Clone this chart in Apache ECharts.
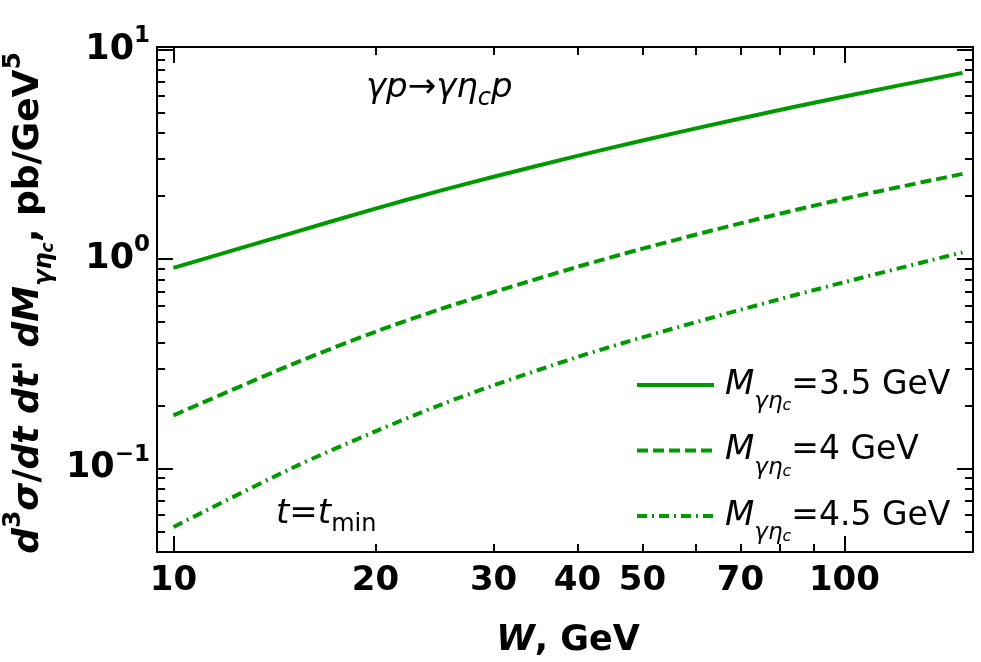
<!DOCTYPE html>
<html>
<head>
<meta charset="utf-8">
<script src="https://cdn.jsdelivr.net/npm/echarts@6/dist/echarts.min.js"></script>
<style>
  html, body { margin: 0; padding: 0; background: #fff; }
  #chart { width: 981px; height: 662px; }
</style>
</head>
<body>
<div id="chart"></div>
<script>
// W, GeV
const W = [10, 15, 20, 25, 30, 40, 50, 70, 100, 150];
// d3sigma/dt dt' dM, pb/GeV^5 at t = tmin
const sigM35 = [0.906, 1.33, 1.74, 2.12, 2.47, 3.11, 3.68, 4.69, 5.98, 7.75];
const sigM40 = [0.179, 0.313, 0.449, 0.576, 0.694, 0.917, 1.12, 1.48, 1.94, 2.55];
const sigM45 = [0.0524, 0.100, 0.150, 0.201, 0.249, 0.340, 0.422, 0.572, 0.775, 1.075];
const massLabels = ["3.5", "4", "4.5"];

const xLabelValues = [10, 20, 30, 40, 50, 70, 100];
const xMajorTicks = [10, 100];
const xMinorTicks = [20, 30, 40, 50, 60, 70, 80, 90];
const yMajorTicks = [0.1, 1, 10];
const yMinorTicks = [0.04, 0.05, 0.06, 0.07, 0.08, 0.09,
  0.2, 0.3, 0.4, 0.5, 0.6, 0.7, 0.8, 0.9, 2, 3, 4, 5, 6, 7, 8, 9];

const X_MIN = 9.45, X_MAX = 155.5;
const Y_MIN = 0.0398, Y_MAX = 10.3;

const FONT = "DejaVu Sans";
const GREEN = "#009900";

function pairs(ys) {
  return W.map((w, i) => [w, ys[i]]);
}

function xAxis(position, ticks, len, withLabels) {
  return {
    type: "log",
    logBase: 10,
    position: position,
    min: X_MIN,
    max: X_MAX,
    axisLine: { show: len > 10, onZero: false, lineStyle: { color: "#000", width: 2 } },
    axisTick: { show: true, inside: true, length: len, customValues: ticks,
      lineStyle: { color: "#000", width: 2 } },
    axisLabel: withLabels ? {
      show: true,
      customValues: xLabelValues,
      margin: 12,
      color: "#000",
      fontFamily: FONT,
      fontWeight: "bold",
      fontSize: 34,
      formatter: v => String(Math.round(v))
    } : { show: false },
    minorTick: { show: false },
    splitLine: { show: false }
  };
}

function yAxis(position, ticks, len, withLabels) {
  return {
    type: "log",
    logBase: 10,
    position: position,
    min: Y_MIN,
    max: Y_MAX,
    axisLine: { show: len > 10, onZero: false, lineStyle: { color: "#000", width: 2 } },
    axisTick: { show: true, inside: true, length: len, customValues: ticks,
      lineStyle: { color: "#000", width: 2 } },
    axisLabel: withLabels ? {
      show: true,
      customValues: yMajorTicks,
      margin: 7,
      color: "#000",
      fontFamily: FONT,
      fontWeight: "bold",
      fontSize: 35,
      lineHeight: 50,
      formatter: v => {
        const e = Math.round(Math.log10(v));
        return "10{sup|" + (e < 0 ? "\u2212" + (-e) : e) + "}";
      },
      rich: {
        sup: { fontFamily: FONT, fontWeight: "bold", fontSize: 23, lineHeight: 23,
          verticalAlign: "top", color: "#000" }
      }
    } : { show: false },
    minorTick: { show: false },
    splitLine: { show: false }
  };
}

const chart = echarts.init(document.getElementById("chart"));

const titleRich = {
  b: { fontFamily: FONT, fontWeight: "bold", fontSize: 36, lineHeight: 56, fill: "#000" },
  bi: { fontFamily: FONT, fontWeight: "bold", fontStyle: "italic", fontSize: 36, lineHeight: 56, fill: "#000" },
  sup: { fontFamily: FONT, fontWeight: "bold", fontSize: 25, lineHeight: 24, verticalAlign: "top", fill: "#000" },
  sub: { fontFamily: FONT, fontWeight: "bold", fontStyle: "italic", fontSize: 24, lineHeight: 24, verticalAlign: "bottom", fill: "#000" },
  ss: { fontFamily: FONT, fontWeight: "bold", fontStyle: "italic", fontSize: 17, lineHeight: 17, verticalAlign: "bottom", fill: "#000" }
};

const xTitleRich = {
  b: { fontFamily: FONT, fontWeight: "bold", fontSize: 35, lineHeight: 40, fill: "#000" },
  bi: { fontFamily: FONT, fontWeight: "bold", fontStyle: "italic", fontSize: 35, lineHeight: 40, fill: "#000" }
};

const annRich = {
  i: { fontFamily: FONT, fontStyle: "italic", fontSize: 34, lineHeight: 46, fill: "#000" },
  n: { fontFamily: FONT, fontSize: 34, lineHeight: 46, fill: "#000" },
  isub: { fontFamily: FONT, fontStyle: "italic", fontSize: 24, lineHeight: 24, verticalAlign: "bottom", fill: "#000" },
  sub: { fontFamily: FONT, fontSize: 24, lineHeight: 24, verticalAlign: "bottom", fill: "#000" }
};

chart.setOption({
  animation: false,
  backgroundColor: "#fff",
  grid: { left: 157, top: 47, width: 816, height: 505, containLabel: false },
  xAxis: [
    xAxis("bottom", xMajorTicks, 16, true),
    xAxis("bottom", xMinorTicks, 8, false),
    xAxis("top", xMajorTicks, 16, false),
    xAxis("top", xMinorTicks, 8, false)
  ],
  yAxis: [
    yAxis("left", yMajorTicks, 16, true),
    yAxis("left", yMinorTicks, 8, false),
    yAxis("right", yMajorTicks, 16, false),
    yAxis("right", yMinorTicks, 8, false)
  ],
  legend: {
    orient: "vertical",
    left: 635,
    top: 368,
    padding: 0,
    itemWidth: 77,
    itemHeight: 14,
    itemGap: 19.5,
    data: massLabels,
    itemStyle: { opacity: 0 },
    lineStyle: { width: 4 },
    formatter: name => "{mi|M}{sub|γη}{ss|c}{n|=" + name + " GeV}",
    textStyle: {
      color: "#000",
      fontFamily: FONT,
      fontSize: 33,
      padding: [0, 0, 0, 6],
      rich: {
        mi: { fontFamily: FONT, fontStyle: "italic", fontSize: 34, lineHeight: 58, color: "#000" },
        n: { fontFamily: FONT, fontSize: 33, lineHeight: 58, color: "#000" },
        sub: { fontFamily: FONT, fontStyle: "italic", fontSize: 23, lineHeight: 23, verticalAlign: "bottom", color: "#000" },
        ss: { fontFamily: FONT, fontStyle: "italic", fontSize: 16, lineHeight: 16, verticalAlign: "bottom", color: "#000" }
      }
    }
  },
  graphic: [
    {
      type: "text", x: 29, y: 303, rotation: Math.PI / 2,
      style: {
        text: "{bi|d}{sup|3}{bi|σ}{b|/}{bi|dt }{bi|dt}{b|' }{bi|dM}{sub|γη}{ss|c}{b|, pb/GeV}{sup|5}",
        align: "center", verticalAlign: "middle", rich: titleRich
      }
    },
    {
      type: "text", x: 568, y: 641,
      style: {
        text: "{bi|W}{b|, GeV}",
        align: "center", verticalAlign: "middle", rich: xTitleRich
      }
    },
    {
      type: "text", x: 366, y: 88,
      style: {
        text: "{i|γp→γη}{isub|c}{i|p}",
        align: "left", verticalAlign: "middle", rich: annRich
      }
    },
    {
      type: "text", x: 276, y: 514,
      style: {
        text: "{i|t}{n|=}{i|t}{sub|min}",
        align: "left", verticalAlign: "middle", rich: annRich
      }
    }
  ],
  series: [
    {
      name: massLabels[0], type: "line", smooth: 0.3, showSymbol: false, symbol: "none",
      xAxisIndex: 0, yAxisIndex: 0,
      lineStyle: { color: GREEN, width: 4, type: "solid" },
      itemStyle: { color: GREEN },
      data: pairs(sigM35)
    },
    {
      name: massLabels[1], type: "line", smooth: 0.3, showSymbol: false, symbol: "none",
      xAxisIndex: 0, yAxisIndex: 0,
      lineStyle: { color: GREEN, width: 4, type: [11, 5] },
      itemStyle: { color: GREEN },
      data: pairs(sigM40)
    },
    {
      name: massLabels[2], type: "line", smooth: 0.3, showSymbol: false, symbol: "none",
      xAxisIndex: 0, yAxisIndex: 0,
      lineStyle: { color: GREEN, width: 4, type: [10, 5, 2, 5] },
      itemStyle: { color: GREEN },
      data: pairs(sigM45)
    }
  ]
});
</script>
</body>
</html>
